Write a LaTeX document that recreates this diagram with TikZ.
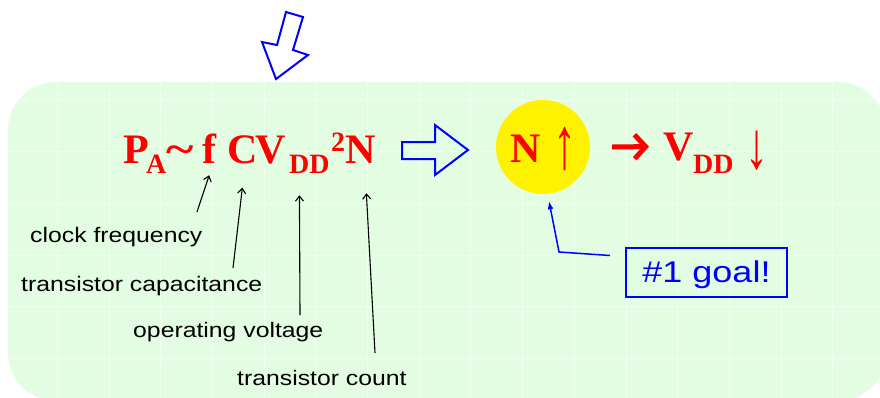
\documentclass[tikz,border=0pt]{standalone}
\usepackage{fontspec}
\usepackage{graphicx}
\setmainfont{Liberation Serif}
\newfontfamily\lsans{Liberation Sans}
\usetikzlibrary{arrows.meta}
\definecolor{bggreen}{RGB}{227,253,227}
\definecolor{gridgreen}{RGB}{238,255,238}
\definecolor{pred}{RGB}{255,0,0}
\definecolor{pblue}{RGB}{0,0,255}
\begin{document}
\begin{tikzpicture}[x=1pt,y=-1pt,
  big/.style={inner sep=0,anchor=base west,text=pred,font=\fontsize{42}{42}\selectfont\bfseries},
  sub/.style={inner sep=0,anchor=base west,text=pred,font=\fontsize{28}{28}\selectfont\bfseries},
  vert/.style={inner sep=0,text=pred,font=\fontsize{46}{46}\selectfont},
  lab/.style={inner sep=0,anchor=base west,font=\lsans\fontsize{21}{21}\selectfont},
  thinarrow/.style={line width=1.1pt,-{Straight Barb[length=5pt,width=8pt]}},
  hollow/.style={draw=pblue,line width=2pt,line join=miter}]

\useasboundingbox (0,0) rectangle (880,397);

% background panel
\begin{scope}
  \clip[rounded corners=48pt] (8,82) rectangle (886,401);
  \fill[bggreen] (0,0) rectangle (886,401);
  \foreach \i in {0,...,17} \draw[gridgreen,line width=0.8pt] (5.5+51.7*\i,82) -- (5.5+51.7*\i,401);
  \foreach \j in {0,...,5} \draw[gridgreen,line width=0.8pt] (8,100+51.7*\j) -- (886,100+51.7*\j);
\end{scope}

% top hollow arrow
\draw[hollow] (286,12) -- (303,17) -- (293,50) -- (308,55) -- (276,79) -- (262,42) -- (277,45) -- cycle;

% formula
\node[big] (P) at (123,163) {P};
\node[sub] (A) at (146,173) {A};
\node[big] (tl) at (166,163) {\scalebox{1.25}[1]{\textasciitilde}};
\node[big] (f) at (202,163) {f};
\node[big] (C) at (227,163) {C};
\node[big] (V) at (255,163) {V};
\node[sub] (DD) at (289,173) {DD};
\node[sub] (sq) at (331,151) {2};
\node[big] (N) at (345,163) {N};

% labels
\node[lab] (cf) at (30,242) {\scalebox{1.18}[1]{clock frequency}};
\node[lab] (tc) at (21,291) {\scalebox{1.18}[1]{transistor capacitance}};
\node[lab] (ov) at (133,337) {\scalebox{1.18}[1]{operating voltage}};
\node[lab] (tn) at (237,385) {\scalebox{1.18}[1]{transistor count}};

\coordinate (cfs) at (197,212);
\coordinate (tcs) at (233,268);
\coordinate (ovs) at (300,315);
\coordinate (tns) at (375,353);
\draw[thinarrow] (cfs) -- ([yshift=-12pt]f.south);
\draw[thinarrow] (tcs) -- ([yshift=-24pt]C.south);
\draw[thinarrow] (ovs) -- ([xshift=-10pt,yshift=-22pt]DD.south);
\draw[thinarrow] (tns) -- ([xshift=6pt,yshift=-30pt]N.south);

% right hollow arrow
\draw[hollow] (402,142) -- (435,142) -- (435,125) -- (468,150) -- (435,175) -- (435,159) -- (402,159) -- cycle;

% circle
\node[circle,fill=yellow,minimum size=94pt,inner sep=0] (circ) at (543,147) {};
\node[big] (N2) at (510,162) {N};
\node[vert] (up) at (565,149) {\scalebox{1}[1.6]{↑}};

% V_DD down
\node[big] (V2) at (663,160) {V};
\node[sub] (DD2) at (693,173) {DD};
\node[vert] (down) at (757,151) {\scalebox{1}[1.45]{↓}};

\draw[pred,line width=5pt,-{Straight Barb[length=11pt,width=24pt]}] ([xshift=22pt]circ.east) -- ([xshift=-14pt]V2.west);

% goal box
\node[draw=pblue,line width=2pt,minimum width=161pt,minimum height=49pt,inner sep=0,
  text=pblue,font=\lsans\fontsize{30}{30}\selectfont,text height=24pt,text depth=5pt]
  (goal) at (706.5,272.5) {\scalebox{1.2}[1]{\#1 goal!}};
\coordinate (gb) at (559,252);
\draw[pblue,line width=1.5pt,-{Latex[length=8pt,width=6pt]}] ([xshift=-15pt,yshift=17pt]goal.west) -- (gb) -- ([xshift=6pt,yshift=-7pt]circ.south);

\end{tikzpicture}
\end{document}
